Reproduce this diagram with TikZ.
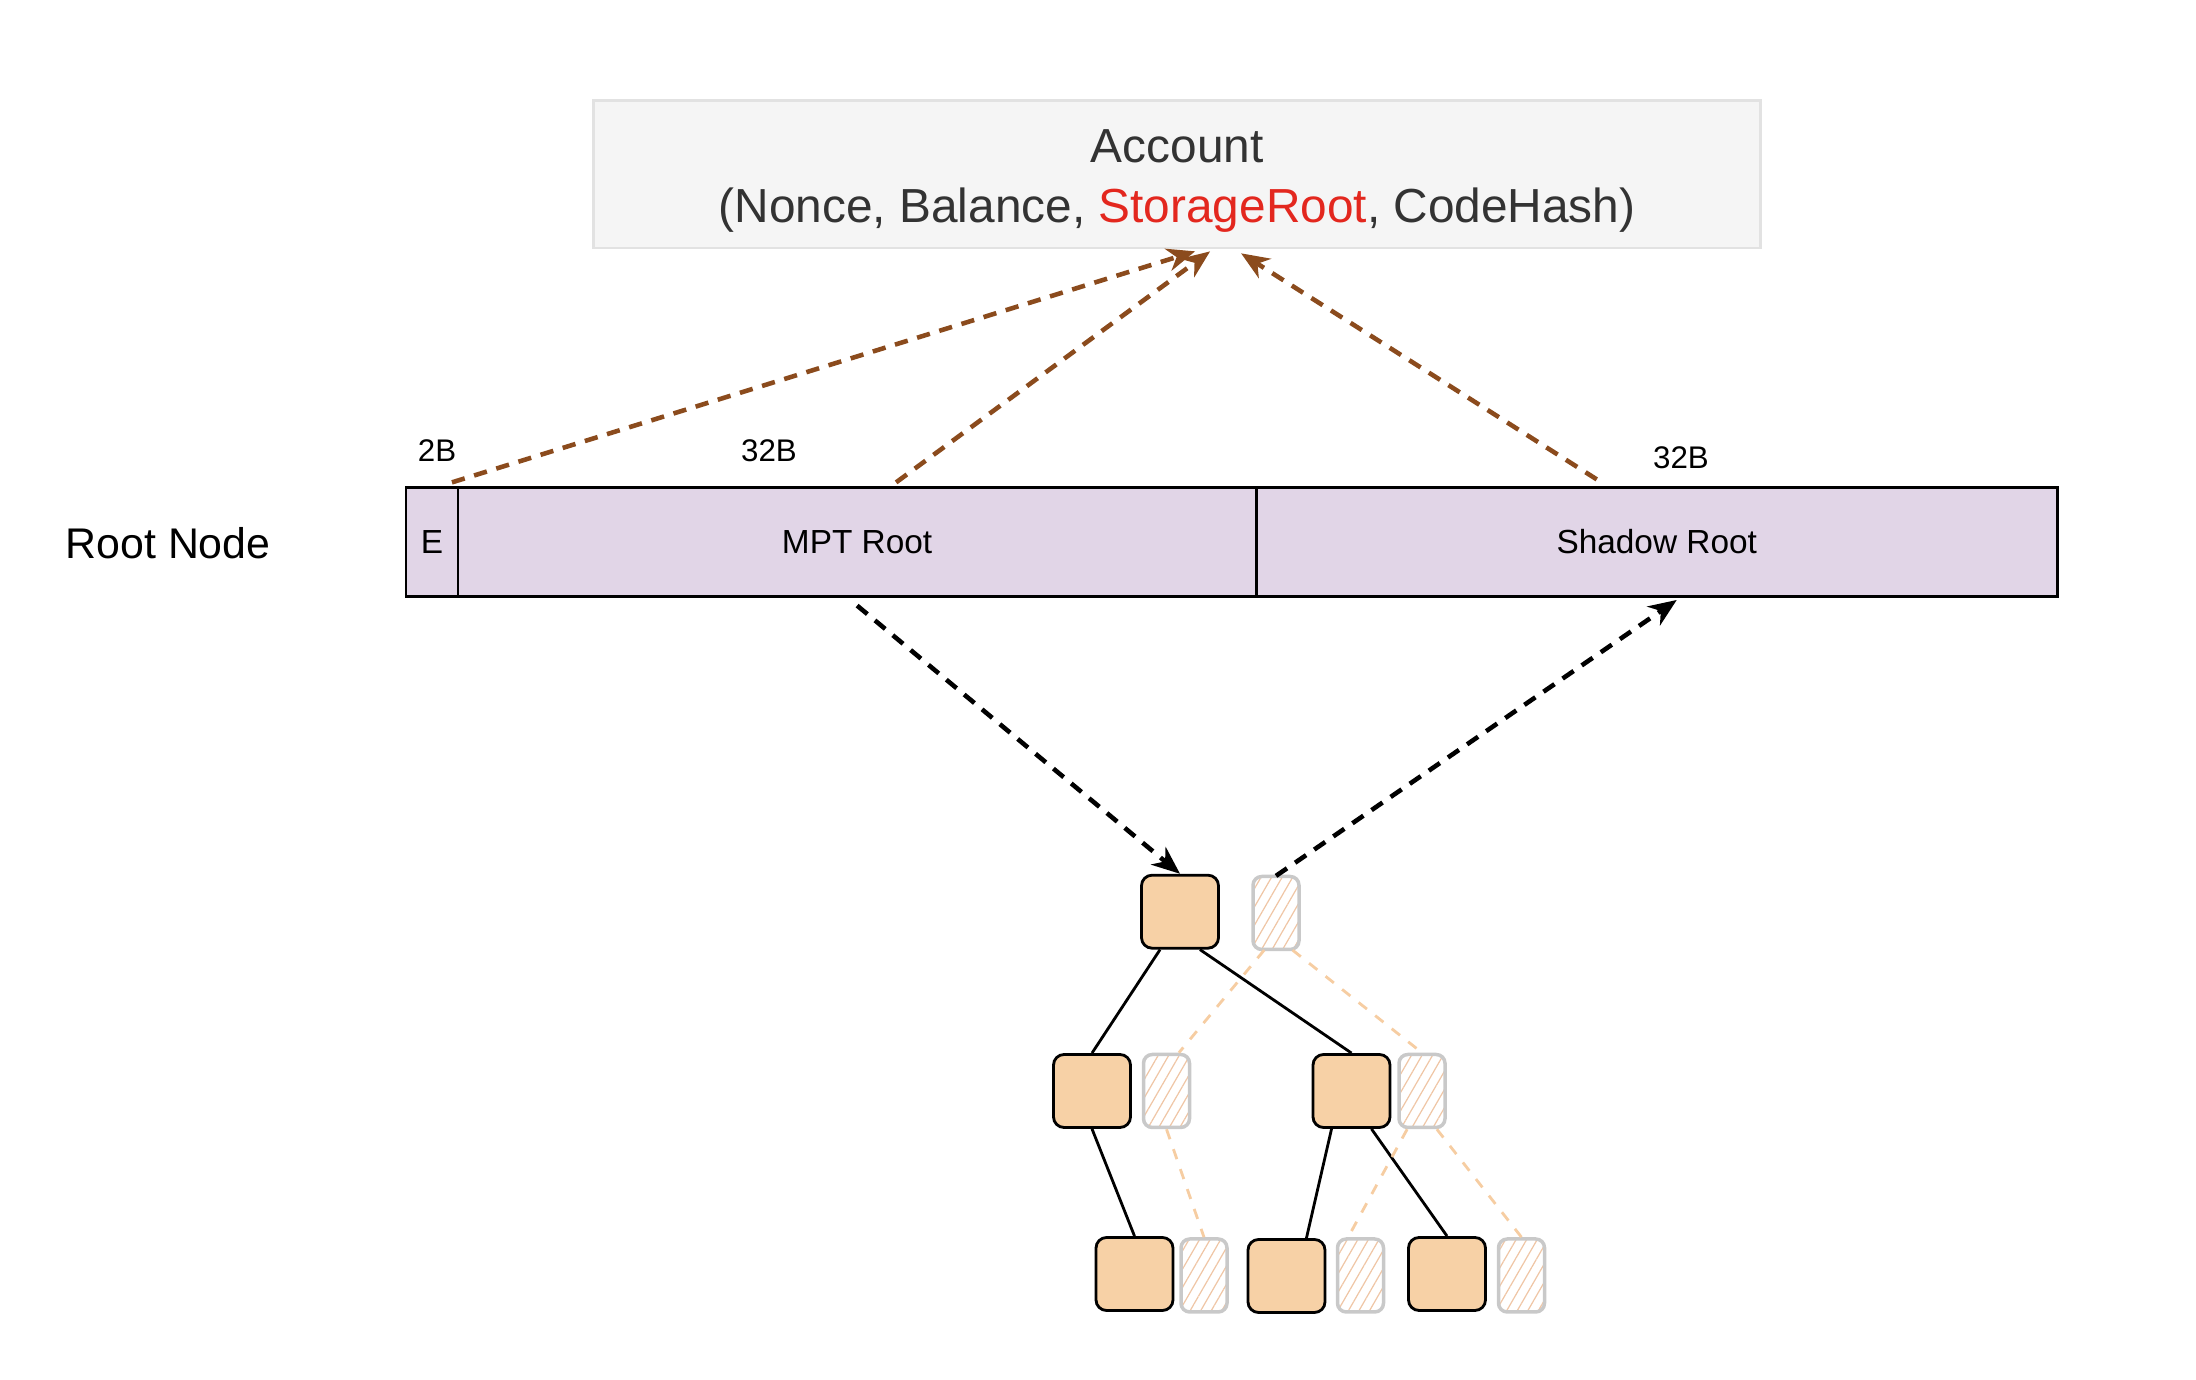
\documentclass[tikz,border=0pt]{standalone}
\usepackage{fontspec}
\setmainfont{Liberation Sans}
\usepackage{xcolor}
\usetikzlibrary{arrows.meta}
\usetikzlibrary{patterns.meta}
\usetikzlibrary{positioning}
\usetikzlibrary{calc}
\definecolor{acctfill}{HTML}{F5F5F5}
\definecolor{acctline}{HTML}{E2E2E2}
\definecolor{accttext}{HTML}{333333}
\definecolor{storred}{HTML}{E3271E}
\definecolor{rootfill}{HTML}{E1D5E7}
\definecolor{linkbrown}{HTML}{8B4B1D}
\definecolor{trienode}{HTML}{F7D1A6}
\definecolor{shadowline}{HTML}{C9C9C9}
\definecolor{shadowhatch}{HTML}{EFC6A6}
\definecolor{shadowlink}{HTML}{F6CDA2}

\tikzset{
	cell/.style={draw, fill=rootfill, line width=0.8pt, minimum height=1.092cm, outer sep=0pt, inner sep=0pt, font=\fontsize{9.5}{11}\selectfont},
	sizelabel/.style={font=\fontsize{8.9}{10}\selectfont},
	trie/.style={draw, fill=trienode, line width=0.8pt, rounded corners=3pt, minimum width=0.77cm, minimum height=0.73cm, inner sep=0pt},
	shadow/.style={draw=shadowline, line width=1pt, rounded corners=2.5pt, pattern={Lines[angle=60,distance=2.6pt,line width=0.35pt]}, pattern color=shadowhatch, minimum width=0.46cm, minimum height=0.73cm, inner sep=0pt},
	brownlink/.style={linkbrown, line width=1.3pt, dash pattern=on 3.8pt off 2.8pt, -{Stealth[length=8pt,width=6.5pt,inset=2.5pt]}},
	blacklink/.style={black, line width=1.3pt, dash pattern=on 3.8pt off 2.8pt, -{Stealth[length=8pt,width=6.5pt,inset=2.5pt]}},
	trieedge/.style={line width=0.8pt},
	shadowedge/.style={shadowlink, line width=0.8pt, dash pattern=on 3pt off 3pt}
}

\begin{document}
\begin{tikzpicture}
	\useasboundingbox (0,0) rectangle (21.96,13.80);
	% account
	\node[draw=acctline, fill=acctfill, line width=0.8pt, minimum width=11.666cm, minimum height=1.471cm, align=center, text=accttext, font=\fontsize{13.6}{17}\selectfont] (account) at (11.771,12.056) {\rule{0pt}{13pt}Account\\(Nonce, Balance, \textcolor{storred}{StorageRoot}, CodeHash)};
	
	% root node row
	\node[font=\fontsize{12.2}{14}\selectfont] (rootlabel) at (1.681,8.366) {Root Node};
	\node[cell, minimum width=0.519cm] (cellE) at (4.32,8.38) {E};
	\node[cell, minimum width=7.983cm, right=0pt of cellE] (cellMPT) {MPT Root};
	\node[cell, minimum width=8.01cm, right=0pt of cellMPT] (cellShadow) {Shadow Root};
	\node[sizelabel] (sizeE) at (4.37,9.29) {2B};
	\node[sizelabel] (sizeMPT) at (7.69,9.29) {32B};
	\node[sizelabel] (sizeShadow) at (16.81,9.22) {32B};
	
	% trie
	\node[trie] (t0) at (11.80,4.683) {};
	\node[shadow] (s0) at (12.76,4.67) {};
	\node[trie] (t1) at (10.92,2.89) {};
	\node[shadow] (s1) at (11.665,2.89) {};
	\node[trie] (t2) at (13.515,2.89) {};
	\node[shadow] (s2) at (14.22,2.89) {};
	\node[trie] (t3) at (11.345,1.06) {};
	\node[shadow] (s3) at (12.04,1.045) {};
	\node[trie] (t4) at (12.865,1.04) {};
	\node[shadow] (s4) at (13.605,1.045) {};
	\node[trie] (t5) at (14.47,1.06) {};
	\node[shadow] (s5) at (15.215,1.045) {};
	
	% trie edges
	\draw[trieedge] ($(t0.south west)!.25!(t0.south east)$) -- (t1.north);
	\draw[trieedge] ($(t0.south west)!.75!(t0.south east)$) -- (t2.north);
	\draw[trieedge] (t1.south) -- (t3.north);
	\draw[trieedge] ($(t2.south west)!.25!(t2.south east)$) -- ($(t4.north west)!.75!(t4.north east)$);
	\draw[trieedge] ($(t2.south west)!.75!(t2.south east)$) -- (t5.north);
	
	% shadow edges
	\draw[shadowedge] ($(s0.south west)!.25!(s0.south east)$) -- ($(s1.north west)!.75!(s1.north east)$);
	\draw[shadowedge] ($(s0.south west)!.85!(s0.south east)$) -- (s2.north);
	\draw[shadowedge] (s1.south) -- (s3.north);
	\draw[shadowedge] ($(s2.south west)!.2!(s2.south east)$) -- ($(s4.north west)!.25!(s4.north east)$);
	\draw[shadowedge] ($(s2.south west)!.8!(s2.south east)$) -- (s5.north);
	
	% links to the account
	\coordinate (fromE) at ($(cellE.north east)+(-0.06,0.05)$);
	\coordinate (fromMPT) at ($(cellMPT.north)+(0.39,0.05)$);
	\coordinate (fromShadow) at ($(cellShadow.north)+(-0.6,0.08)$);
	\coordinate (toE) at ($(account.south)+(0.18,-0.02)$);
	\coordinate (toMPT) at ($(account.south)+(0.33,-0.02)$);
	\coordinate (toShadow) at ($(account.south)+(0.64,-0.04)$);
	\draw[brownlink] (fromE) -- (toE);
	\draw[brownlink] (fromMPT) -- (toMPT);
	\draw[brownlink] (fromShadow) -- (toShadow);
	
	% links between root node and trie
	\coordinate (belowMPT) at ($(cellMPT.south)+(0,-0.09)$);
	\coordinate (belowShadow) at ($(cellShadow.south)+(0.2,-0.034)$);
	\draw[blacklink] (belowMPT) -- (t0.north);
	\draw[blacklink] (s0.north) -- (belowShadow);
\end{tikzpicture}
\end{document}
